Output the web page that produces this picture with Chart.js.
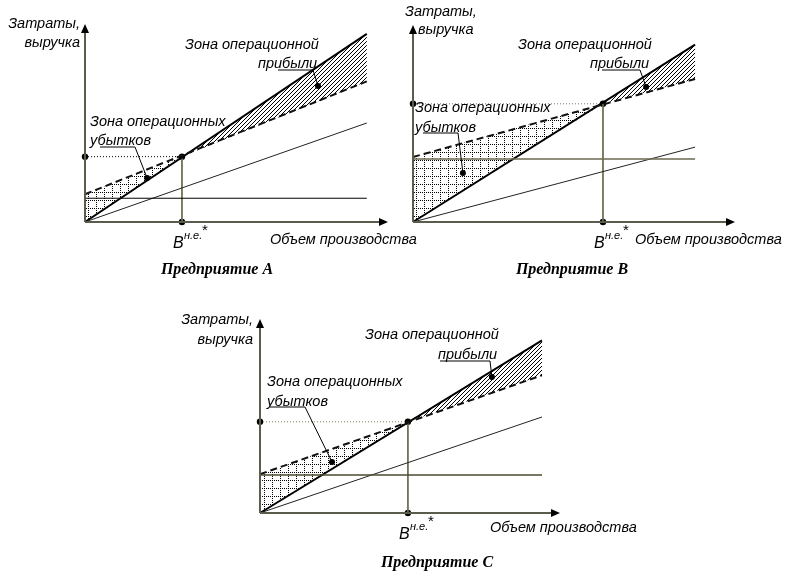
<!DOCTYPE html>
<html>
<head>
<meta charset="utf-8">
<script src="https://cdn.jsdelivr.net/npm/chart.js@4/dist/chart.umd.min.js"></script>
<style>
  body { margin: 0; background: #fff; }
  #wrap { position: relative; width: 786px; height: 584px; }
  #wrap canvas { position: absolute; left: 0; top: 0; }
</style>
</head>
<body>
<div id="wrap">
  <canvas id="chartA" width="786" height="584"></canvas>
  <canvas id="chartB" width="786" height="584"></canvas>
  <canvas id="chartC" width="786" height="584"></canvas>
</div>
<script>
// values, in axis units (0..100 on both axes)
// Предприятие А
var volumeA = [0, 93];
var revenueA = [0, 95];
var totalCostA = [14, 71];
var variableCostA = [0, 50];
var fixedCostA = [12, 12];
var breakEvenA = [32, 33];

// Предприятие В
var volumeB = [0, 87.6];
var revenueB = [0, 90];
var totalCostB = [33, 72.6];
var variableCostB = [0, 38];
var fixedCostB = [32, 32];
var breakEvenB = [59, 60];

// Предприятие С
var volumeC = [0, 94];
var revenueC = [0, 89];
var totalCostC = [20, 71];
var variableCostC = [0, 49.5];
var fixedCostC = [19.6, 19.6];
var breakEvenC = [49.3, 47];

var labelFont = 'italic 14.5px "Liberation Sans"';
var titleFont = 'bold italic 16px "Liberation Serif"';

//make fill patterns
function makePattern(size, draw) {
  var c = document.createElement('canvas');
  c.width = size; c.height = size;
  var g = c.getContext('2d');
  g.fillStyle = '#000';
  draw(g);
  return document.createElement('canvas').getContext('2d').createPattern(c, 'repeat');
}
var gridFill = makePattern(8, function (g) {
  for (var i = 0; i < 8; i += 2) { g.fillRect(i, 0, 1, 1); g.fillRect(0, i, 1, 1); }
});
var hatchFill = makePattern(4, function (g) {
  for (var i = 0; i < 4; i++) g.fillRect(i, 3 - i, 1, 1);
});

function pts(xs, ys) {
  return xs.map(function (x, i) { return { x: x, y: ys[i] }; });
}

// axes, arrows, labels and leader lines
var schemePlugin = {
  id: 'scheme',
  afterDatasetsDraw: function (chart) {
    var o = chart.options.plugins.scheme;
    var ctx = chart.ctx, a = chart.chartArea;
    var xs = chart.scales.x, ys = chart.scales.y;
    var ox = a.left, oy = a.bottom;
    ctx.save();
    // axes
    ctx.strokeStyle = '#5c5c4c';
    ctx.lineWidth = 2;
    ctx.beginPath();
    ctx.moveTo(ox, oy); ctx.lineTo(a.right - 6, oy);
    ctx.moveTo(ox, oy); ctx.lineTo(ox, a.top + 6);
    ctx.stroke();
    ctx.fillStyle = '#000';
    ctx.beginPath();
    ctx.moveTo(a.right, oy); ctx.lineTo(a.right - 9, oy - 4); ctx.lineTo(a.right - 9, oy + 4);
    ctx.closePath(); ctx.fill();
    ctx.beginPath();
    ctx.moveTo(ox, a.top); ctx.lineTo(ox - 4, a.top + 9); ctx.lineTo(ox + 4, a.top + 9);
    ctx.closePath(); ctx.fill();

    // leader lines
    ctx.strokeStyle = '#000';
    ctx.lineWidth = 1;
    o.leaders.forEach(function (l) {
      var dx = xs.getPixelForValue(l.dot[0]), dy = ys.getPixelForValue(l.dot[1]);
      ctx.beginPath();
      ctx.moveTo(ox + l.from, oy + l.at);
      ctx.lineTo(ox + l.to, oy + l.at);
      ctx.lineTo(dx, dy);
      ctx.stroke();
      ctx.beginPath();
      ctx.arc(dx, dy, 3, 0, Math.PI * 2);
      ctx.fill();
    });

    // texts
    ctx.textBaseline = 'middle';
    ctx.font = labelFont;
    o.texts.forEach(function (t) {
      ctx.textAlign = t.align || 'left';
      ctx.fillText(t.s, ox + t.dx, oy + t.dy);
    });

    // B н.е.* label under break-even point
    var bx = xs.getPixelForValue(o.be[0]);
    ctx.textAlign = 'left';
    ctx.font = 'italic 16px "Liberation Sans"';
    ctx.fillText('B', bx - 9, oy + 22);
    ctx.font = 'italic 11px "Liberation Sans"';
    ctx.fillText('н.е.', bx + 2, oy + 14);
    ctx.font = '15px "Liberation Sans"';
    ctx.fillText('*', bx + 20, oy + 9);

    ctx.font = titleFont;
    ctx.textAlign = 'center';
    ctx.fillText(o.title, ox + o.titleDx, oy + o.titleDy);
    ctx.restore();
  }
};

function makePanel(id, d, pad, fixedColor, guideColor, notes) {
  var be = d.be;
  var last = d.vol.length - 1;
  new Chart(document.getElementById(id), {
    type: 'line',
    data: {
      datasets: [
        { // loss zone
          data: [{ x: 0, y: d.tot[0] }, { x: be[0], y: be[1] }, { x: 0, y: 0 }],
          fill: 'shape', backgroundColor: gridFill, borderWidth: 0, order: 10
        },
        { // profit zone
          data: [{ x: be[0], y: be[1] }, { x: d.vol[last], y: d.rev[last] }, { x: d.vol[last], y: d.tot[last] }],
          fill: 'shape', backgroundColor: hatchFill, borderWidth: 0, order: 10
        },
        { data: pts(d.vol, d.fix), borderColor: fixedColor, borderWidth: fixedColor === '#000' ? 1 : 1.6 },
        { data: pts(d.vol, d.vari), borderColor: '#222', borderWidth: 1 },
        { data: pts(d.vol, d.tot), borderColor: '#111', borderWidth: 2, borderDash: [7, 4] },
        { data: pts(d.vol, d.rev), borderColor: '#000', borderWidth: 2 },
        { data: [{ x: 0, y: be[1] }, { x: be[0], y: be[1] }], borderColor: guideColor, borderWidth: 1, borderDash: [1, 2] },
        { data: [{ x: be[0], y: be[1] }, { x: be[0], y: 0 }], borderColor: '#6c6c50', borderWidth: 1 },
        { data: [{ x: 0, y: be[1] }, { x: be[0], y: be[1] }, { x: be[0], y: 0 }],
          showLine: false, pointRadius: 3.2, pointBackgroundColor: '#000', pointBorderWidth: 0 }
      ]
    },
    options: {
      responsive: false,
      animation: false,
      events: [],
      layout: { padding: pad },
      elements: { point: { radius: 0 }, line: { tension: 0 } },
      datasets: { line: { clip: false } },
      scales: {
        x: { type: 'linear', min: 0, max: 100, display: false },
        y: { type: 'linear', min: 0, max: 100, display: false }
      },
      plugins: {
        legend: { display: false },
        tooltip: { enabled: false },
        scheme: notes
      }
    },
    plugins: [schemePlugin]
  });
}

makePanel('chartA',
  { vol: volumeA, rev: revenueA, tot: totalCostA, vari: variableCostA, fix: fixedCostA, be: breakEvenA },
  { left: 85, right: 398, top: 24, bottom: 362 }, '#000', '#000',
  {
    title: 'Предприятие А', titleDx: 132, titleDy: 48, be: breakEvenA,
    texts: [
      { s: 'Затраты,', dx: -5, dy: -198, align: 'right' },
      { s: 'выручка', dx: -5, dy: -179, align: 'right' },
      { s: 'Зона операционной', dx: 100, dy: -177 },
      { s: 'прибыли', dx: 173, dy: -158 },
      { s: 'Зона операционных', dx: 5, dy: -100 },
      { s: 'убытков', dx: 5, dy: -81 },
      { s: 'Объем производства', dx: 185, dy: 18 }
    ],
    leaders: [
      { from: 193, to: 228, at: -152, dot: [76.9, 68.7] },
      { from: 15, to: 50, at: -75, dot: [20.5, 22.2] }
    ]
  });

makePanel('chartB',
  { vol: volumeB, rev: revenueB, tot: totalCostB, vari: variableCostB, fix: fixedCostB, be: breakEvenB },
  { left: 413, right: 51, top: 25, bottom: 362 }, '#6a6a50', '#777',
  {
    title: 'Предприятие В', titleDx: 159, titleDy: 48, be: breakEvenB,
    texts: [
      { s: 'Затраты,', dx: -8, dy: -210 },
      { s: 'выручка', dx: 5, dy: -192 },
      { s: 'Зона операционной', dx: 105, dy: -177 },
      { s: 'прибыли', dx: 177, dy: -158 },
      { s: 'Зона операционных', dx: 2, dy: -114 },
      { s: 'убытков', dx: 2, dy: -94 },
      { s: 'Объем производства', dx: 222, dy: 18 }
    ],
    leaders: [
      { from: 189, to: 227, at: -152, dot: [72.4, 68.5] },
      { from: 10, to: 45, at: -89, dot: [15.5, 24.9] }
    ]
  });

makePanel('chartC',
  { vol: volumeC, rev: revenueC, tot: totalCostC, vari: variableCostC, fix: fixedCostC, be: breakEvenC },
  { left: 260, right: 226, top: 319, bottom: 71 }, '#4a4a30', '#808050',
  {
    title: 'Предприятие С', titleDx: 177, titleDy: 50, be: breakEvenC,
    texts: [
      { s: 'Затраты,', dx: -7, dy: -193, align: 'right' },
      { s: 'выручка', dx: -7, dy: -173, align: 'right' },
      { s: 'Зона операционной', dx: 105, dy: -178 },
      { s: 'прибыли', dx: 178, dy: -158 },
      { s: 'Зона операционных', dx: 7, dy: -131 },
      { s: 'убытков', dx: 7, dy: -111 },
      { s: 'Объем производства', dx: 230, dy: 15 }
    ],
    leaders: [
      { from: 180, to: 230, at: -152, dot: [77.3, 70.1] },
      { from: 10, to: 45, at: -106, dot: [24, 26.3] }
    ]
  });
</script>
</body>
</html>
